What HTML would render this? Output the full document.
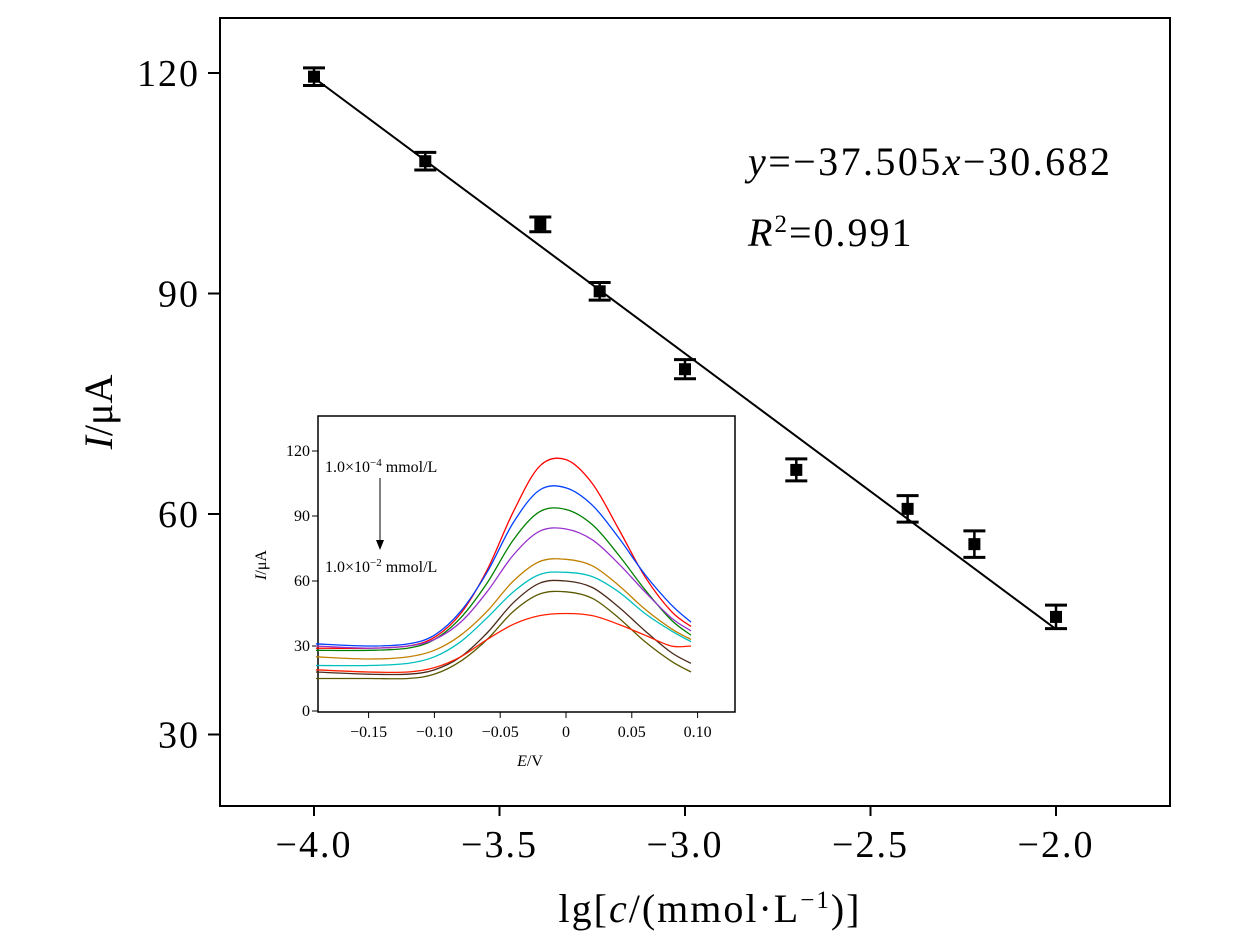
<!DOCTYPE html>
<html><head><meta charset="utf-8"><style>
body{margin:0;background:#fff}
svg{display:block;font-family:"Liberation Serif",serif}
</style></head><body>
<svg id="chart" width="1260" height="945" viewBox="0 0 1260 945" xmlns="http://www.w3.org/2000/svg">
<rect x="220" y="18" width="950" height="788" fill="none" stroke="#000" stroke-width="2"/>
<g id="main"></g>
<text x="748" y="175" font-size="40" textLength="362" lengthAdjust="spacing"><tspan font-style="italic">y</tspan>=−37.505<tspan font-style="italic">x</tspan>−30.682</text>
<text x="748" y="246" font-size="40" letter-spacing="2"><tspan font-style="italic">R</tspan><tspan font-size="25" dy="-14">2</tspan><tspan dy="14">=0.991</tspan></text>
<text transform="translate(112,412) rotate(-90)" text-anchor="middle" font-size="40"><tspan font-style="italic">I</tspan>/μA</text>
<text x="710" y="922" text-anchor="middle" font-size="40" letter-spacing="2">lg[<tspan font-style="italic">c</tspan>/(mmol·L<tspan font-size="25" dy="-14">−1</tspan><tspan dy="14">)]</tspan></text>
<rect x="318" y="416" width="417" height="296" fill="#fff" stroke="#000" stroke-width="1.5"/>
<g id="inset"></g>
<text x="325" y="472" font-size="16">1.0×10<tspan font-size="11" dy="-6">−4</tspan><tspan dy="6"> mmol/L</tspan></text>
<line x1="380" y1="478" x2="380" y2="546" stroke="#000" stroke-width="1"/>
<polygon points="376,540 384,540 380,550" fill="#000"/>
<text x="325" y="572" font-size="16">1.0×10<tspan font-size="11" dy="-6">−2</tspan><tspan dy="6"> mmol/L</tspan></text>
<text transform="translate(266,565) rotate(-90)" text-anchor="middle" font-size="16"><tspan font-style="italic">I</tspan>/μA</text>
<text x="530" y="766" text-anchor="middle" font-size="16"><tspan font-style="italic">E</tspan>/V</text>
</svg>
<script>
const xVals=[-4.00,-3.70,-3.39,-3.23,-3.00,-2.70,-2.40,-2.22,-2.00];
const yVals=[119.5,108.0,99.4,90.3,79.7,66.0,60.7,55.9,46.0];
const errVals=[1.2,1.2,1.0,1.2,1.3,1.5,1.8,1.8,1.6];
const xTicks=[-4.0,-3.5,-3.0,-2.5,-2.0];
const xTickLabels=["−4.0","−3.5","−3.0","−2.5","−2.0"];
const yTicks=[30,60,90,120];
const slope=-37.505, intercept=-30.682;
const insetX=[-0.19,-0.15,-0.12,-0.10,-0.08,-0.06,-0.04,-0.02,0,0.02,0.04,0.06,0.08,0.095];
const curveColors=["#ff0000","#0040ff","#008000","#9932cc","#c08000","#00bfbf","#4b2a1a","#5c5a00","#ff2000"];
const c1=[29,29,30,34,45,65,92,113,116,105,84,62,46,39];
const c2=[31,30,31,35,46,64,87,102,103,95,80,63,49,41];
const c3=[28,28,29,33,43,59,79,92,93,86,72,56,42,35];
const c4=[30,29,30,33,41,55,72,83,84,79,68,55,43,37];
const c5=[25,24,25,28,35,46,60,69,70,67,58,47,38,33];
const c6=[21,21,22,25,32,43,55,63,64,62,55,45,37,32];
const c7=[18,17,17,19,25,36,50,59,60,57,48,37,27,22];
const c8=[15,15,15,17,23,33,46,54,55,52,43,32,23,18];
const c9=[19,18,18,20,25,33,40,44,45,44,40,35,30,30];
const curves=[c1,c2,c3,c4,c5,c6,c7,c8,c9];
const insetXTicks=[-0.15,-0.10,-0.05,0,0.05,0.10];
const insetXLabels=["−0.15","−0.10","−0.05","0","0.05","0.10"];
const insetYTicks=[0,30,60,90,120];

const NS="http://www.w3.org/2000/svg";
function mk(parent,tag,attrs){const e=document.createElementNS(NS,tag);for(const k in attrs)e.setAttribute(k,attrs[k]);parent.appendChild(e);return e;}
const X=v=>314+(v+4)*371;
const Y=v=>73+(120-v)*7.35;
const main=document.getElementById('main');
xTicks.forEach((t,i)=>{
  const l=mk(main,'line',{x1:X(t),x2:X(t),y1:806,y2:816,stroke:'#000','stroke-width':2});
  
  
  const tx=mk(main,'text',{x:X(t),y:857,'text-anchor':'middle','font-size':38,'letter-spacing':2});
  tx.textContent=xTickLabels[i];
  
  
});
yTicks.forEach(t=>{
  const l=mk(main,'line',{x1:208,x2:220,y1:Y(t),y2:Y(t),stroke:'#000','stroke-width':2});
  
  
  const tx=mk(main,'text',{x:200,y:Y(t)+13,'text-anchor':'end','font-size':38,'letter-spacing':2});
  tx.textContent=String(t);
  
  
});
const fit=mk(main,'line',{x1:X(-4),y1:Y(slope*-4+intercept),x2:X(-2),y2:Y(slope*-2+intercept),stroke:'#000','stroke-width':2});


xVals.forEach((x,i)=>{
  const cx=X(x),cy=Y(yVals[i]),t=Y(yVals[i]+errVals[i]),b=Y(yVals[i]-errVals[i]);
  const g=mk(main,'g',{});
  
  
  mk(g,'line',{x1:cx,x2:cx,y1:t,y2:b,stroke:'#000','stroke-width':2.5});
  mk(g,'line',{x1:cx-11,x2:cx+11,y1:t,y2:t,stroke:'#000','stroke-width':3});
  mk(g,'line',{x1:cx-11,x2:cx+11,y1:b,y2:b,stroke:'#000','stroke-width':3});
  mk(g,'rect',{x:cx-6,y:cy-6,width:12,height:12,fill:'#000'});
});
const IX=v=>566+v*1316;
const IY=v=>711-v*65/30;
const ins=document.getElementById('inset');
insetXTicks.forEach((t,i)=>{
  const l=mk(ins,'line',{x1:IX(t),x2:IX(t),y1:712,y2:718,stroke:'#000','stroke-width':1});
  
  
  const tx=mk(ins,'text',{x:IX(t),y:737,'text-anchor':'middle','font-size':16});
  tx.textContent=insetXLabels[i];
  
  
});
insetYTicks.forEach(t=>{
  const l=mk(ins,'line',{x1:312,x2:318,y1:IY(t),y2:IY(t),stroke:'#000','stroke-width':1});
  
  
  const tx=mk(ins,'text',{x:310,y:IY(t)+5,'text-anchor':'end','font-size':16});
  tx.textContent=String(t);
  
  
});
curves.forEach((c,ci)=>{
  const p=c.map((v,i)=>[IX(insetX[i]),IY(v)]);
  let d='M'+p[0][0]+','+p[0][1];
  for(let i=0;i<p.length-1;i++){
    const p0=p[Math.max(0,i-1)],p1=p[i],p2=p[i+1],p3=p[Math.min(p.length-1,i+2)];
    d+=' C'+(p1[0]+(p2[0]-p0[0])/6)+','+(p1[1]+(p2[1]-p0[1])/6)+' '+(p2[0]-(p3[0]-p1[0])/6)+','+(p2[1]-(p3[1]-p1[1])/6)+' '+p2[0]+','+p2[1];
  }
  const path=mk(ins,'path',{d:d,fill:'none',stroke:curveColors[ci],'stroke-width':1.3});
  
  
});
</script>
</body></html>
